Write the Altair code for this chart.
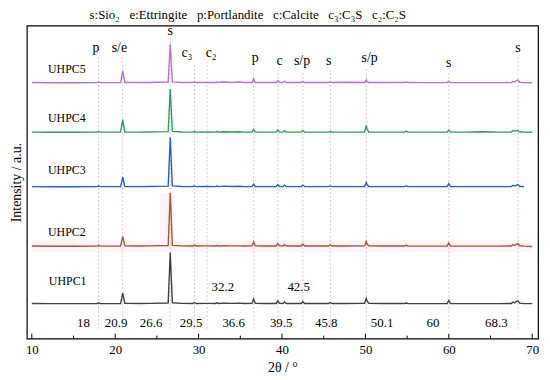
import altair as alt
import pandas as pd

# ---------------- data ----------------
samples = ["UHPC1", "UHPC2", "UHPC3", "UHPC4", "UHPC5"]
offsets = [35, 93, 153, 208, 258]
colors = ["#404040", "#9e5a32", "#2060c8", "#27a05a", "#b46fe0"]

two_theta = [10.0, 12.5, 15.0, 17.8, 18.0, 18.2, 20.65, 20.9, 21.15, 23.0,
             24.0, 26.35, 26.6, 26.85, 28.0, 29.3, 29.5, 29.7, 31.0, 32.0,
             32.2, 32.4, 33.0, 34.0, 34.8, 35.5, 36.4, 36.6, 36.8, 38.0,
             39.3, 39.5, 39.7, 40.1, 40.3, 40.5, 41.5, 42.3, 42.5, 42.7,
             44.0, 45.6, 45.8, 46.0, 47.5, 49.9, 50.1, 50.2, 50.4, 52.0,
             54.7, 54.9, 55.1, 57.0, 59.8, 60.0, 60.2, 62.0, 64.0, 66.0,
             67.5, 67.7, 67.9, 68.1, 68.3, 68.5, 69.0, 70.0]

uhpc1 = [0.5, 0.3, 0.3, 0.4, 1.2, 0.4, 0.5, 11, 0.6, 0.5,
         0.6, 1.0, 52, 1.2, 0.6, 0.5, 1.5, 0.5, 0.6, 0.5,
         1.2, 0.5, 0.8, 0.6, 0.8, 0.5, 0.6, 5.0, 0.6, 0.5,
         0.5, 3.0, 0.6, 0.5, 2.0, 0.5, 0.5, 0.5, 2.5, 0.5,
         0.5, 0.5, 1.5, 0.5, 0.5, 0.6, 5.5, 3.0, 0.6, 0.5,
         0.5, 1.0, 0.5, 0.4, 0.5, 3.5, 0.5, 0.4, 0.4, 0.4,
         0.5, 2.0, 1.0, 2.5, 3.0, 0.8, 0.4, 0.3]
uhpc2 = [0.5, 0.3, 0.3, 0.4, 1.0, 0.4, 0.5, 10, 0.6, 0.5,
         0.6, 1.0, 54, 1.2, 0.6, 0.5, 1.2, 0.5, 0.6, 0.5,
         1.0, 0.5, 0.8, 0.6, 0.6, 0.5, 0.6, 4.5, 0.6, 0.5,
         0.5, 3.0, 0.6, 0.5, 1.8, 0.5, 0.5, 0.5, 2.5, 0.5,
         0.5, 0.5, 1.5, 0.5, 0.5, 0.6, 5.0, 2.5, 0.6, 0.5,
         0.5, 1.2, 0.5, 0.4, 0.5, 3.5, 0.5, 0.4, 0.4, 0.4,
         0.5, 2.0, 1.0, 2.5, 2.8, 0.8, 0.4, 0.0]
uhpc3 = [0.5, 0.3, 0.3, 0.4, 1.0, 0.4, 0.5, 10, 0.6, 0.5,
         0.6, 1.0, 50, 1.2, 0.6, 0.5, 1.2, 0.5, 0.6, 0.5,
         1.0, 0.5, 1.0, 0.6, 0.8, 0.5, 0.6, 3.0, 0.6, 0.5,
         0.5, 2.5, 0.6, 0.5, 2.0, 0.5, 0.5, 0.5, 2.0, 0.5,
         0.5, 0.5, 1.2, 0.5, 0.5, 0.6, 4.5, 2.5, 0.6, 0.5,
         0.5, 1.2, 0.5, 0.4, 0.5, 3.5, 0.5, 0.4, 0.4, 0.4,
         0.5, 1.8, 1.0, 2.0, 2.5, 0.8, 0.3, None]
uhpc4 = [0.5, 0.3, 0.3, 0.4, 1.0, 0.4, 0.5, 13, 0.6, 0.5,
         0.6, 1.0, 44, 1.2, 0.6, 0.5, 1.0, 0.5, 0.6, 0.5,
         1.0, 0.5, 0.8, 0.6, 0.8, 0.5, 0.6, 3.0, 0.6, 0.5,
         0.5, 2.5, 0.6, 0.5, 1.8, 0.5, 0.5, 0.5, 2.0, 0.5,
         0.5, 0.5, 1.0, 0.5, 0.5, 0.6, 7.0, 3.5, 0.6, 0.5,
         0.5, 1.5, 0.5, 0.4, 0.5, 2.5, 0.5, 0.4, 0.8, 0.4,
         0.5, 2.0, 1.5, 2.0, 2.0, 0.8, 0.4, 0.3]
uhpc5 = [0.5, 0.3, 0.3, 0.4, 1.0, 0.4, 0.5, 12, 0.6, 0.5,
         0.6, 1.0, 39, 1.2, 0.6, 0.5, 1.2, 0.5, 0.6, 0.5,
         1.0, 0.5, 1.0, 0.6, 1.0, 0.5, 0.6, 4.0, 0.6, 0.5,
         0.5, 2.5, 0.6, 0.5, 1.8, 0.5, 0.5, 0.5, 1.5, 0.5,
         0.5, 0.5, 1.2, 0.5, 0.8, 0.6, 3.0, 1.5, 0.6, 0.5,
         0.5, 1.0, 0.5, 0.4, 0.5, 2.0, 0.5, 0.4, 0.4, 0.4,
         0.5, 1.8, 1.0, 2.5, 3.0, 0.8, 0.4, 0.3]
intensities = [uhpc1, uhpc2, uhpc3, uhpc4, uhpc5]

# sample label positions
sample_label_x = [14.3, 14.2, 14.2, 14.2, 14.2]
sample_label_y = [58, 108, 170, 223, 272]

# reference lines (2theta) and phase labels
ref_pos = [18.0, 20.9, 26.6, 29.5, 31.0, 36.6, 39.5, 42.5, 45.8, 50.1, 60.0, 68.3]
ref_top = [284, 284, 306, 279, 279, 274, 271, 271, 271, 274, 269, 284]
phase_text = ["p", "s/e", "s", "c₃", "c₂", "p", "c", "s/p", "s", "s/p", "s", "s"]
phase_x = [17.7, 20.5, 26.6, 28.6, 31.5, 36.8, 39.7, 42.4, 45.6, 50.5, 60.0, 68.3]
phase_y = [293, 293, 310, 288, 288, 283, 280, 280, 280, 283, 278, 293]

# numeric annotations
num_text = ["18", "20.9", "26.6", "29.5", "36.6", "39.5", "45.8", "50.1", "60", "68.3", "32.2", "42.5"]
num_x = [16.2, 20.1, 24.3, 29.1, 34.2, 39.9, 45.3, 52.0, 58.1, 65.7, 32.9, 42.0]
num_y = [16, 16, 16, 16, 16, 16, 16, 16, 16, 16, 52, 52]

major_ticks = [10, 20, 30, 40, 50, 60, 70]
minor_ticks = [15, 25, 35, 45, 55, 65]

# faint pink highlight bands
band_x = [10.0, 25.4]
band_x2 = [69.8, 27.0]
band_y = [88, 99]
band_y2 = [99, 147]

legend_text = "\u00a0\u00a0\u00a0".join(
    ["s:Sio₂", "e:Ettringite", "p:Portlandite", "c:Calcite", "c₃:C₃S", "c₂:C₂S"])

# ---------------- tables ----------------
rows = []
for s, off, ys in zip(samples, offsets, intensities):
    for xv, yv in zip(two_theta, ys):
        rows.append({"x": xv, "y": (yv + off) if yv is not None else None, "sample": s})
spec_df = pd.DataFrame(rows)

lab_df = pd.DataFrame({"x": sample_label_x, "y": sample_label_y, "t": samples})
ref_df = pd.DataFrame({"x": ref_pos, "y": [10] * len(ref_pos), "y2": ref_top})
phase_df = pd.DataFrame({"x": phase_x, "y": phase_y, "t": phase_text})
num_df = pd.DataFrame({"x": num_x, "y": num_y, "t": num_text})
tick_df = pd.DataFrame({"x": major_ticks + minor_ticks,
                        "y": [0] * (len(major_ticks) + len(minor_ticks)),
                        "y2": [5] * len(major_ticks) + [3] * len(minor_ticks)})
band_df = pd.DataFrame({"x": band_x, "x2": band_x2, "y": band_y, "y2": band_y2})

FONT = "'Liberation Serif', 'Times New Roman', 'DejaVu Serif', serif"
x_scale = alt.Scale(domain=[9.4, 70.7], nice=False, zero=False)
y_scale = alt.Scale(domain=[0, 316], nice=False, zero=False)
x_axis = alt.Axis(values=major_ticks, title="2θ / °", ticks=False, grid=False,
                  domain=False, labelPadding=5, titlePadding=4, format="d")
y_axis = alt.Axis(labels=False, ticks=False, grid=False, domain=False,
                  title="Intensity / a.u.", titlePadding=3)


def X(f):
    return alt.X(f, type="quantitative", scale=x_scale, axis=x_axis)


def Y(f):
    return alt.Y(f, type="quantitative", scale=y_scale, axis=y_axis)


bands = alt.Chart(band_df).mark_rect(color="#fdeef5", opacity=0.7).encode(
    x=X("x"), x2="x2", y=Y("y"), y2="y2")

refs = alt.Chart(ref_df).mark_rule(color="#e9a9c2", strokeDash=[2, 2], strokeWidth=0.8).encode(
    x=X("x"), y=Y("y"), y2="y2")

lines = alt.Chart(spec_df).mark_line(strokeWidth=1.4).encode(
    x=X("x"), y=Y("y"),
    color=alt.Color("sample:N", scale=alt.Scale(domain=samples, range=colors), legend=None),
    detail="sample:N")

ticks = alt.Chart(tick_df).mark_rule(color="black", strokeWidth=1).encode(
    x=X("x"), y=Y("y"), y2="y2")

sample_labels = alt.Chart(lab_df).mark_text(font=FONT, fontSize=12, color="black").encode(
    x=X("x"), y=Y("y"), text="t:N")

phase_labels = alt.Chart(phase_df).mark_text(font=FONT, fontSize=14, color="black").encode(
    x=X("x"), y=Y("y"), text="t:N")

num_labels = alt.Chart(num_df).mark_text(font=FONT, fontSize=13, color="black").encode(
    x=X("x"), y=Y("y"), text="t:N")

chart = alt.layer(bands, refs, lines, ticks, sample_labels, phase_labels, num_labels).properties(
    width=516, height=316,
    padding={"left": 19, "top": 16, "right": 4, "bottom": 40},
    autosize=alt.AutoSizeParams(type="none"),
    title=alt.Title(legend_text,
                    anchor="middle", dx=-35, offset=3, font=FONT, fontSize=13,
                    fontWeight="normal", color="black"),
).configure_view(stroke="black", strokeWidth=1.2).configure_axis(
    labelFont=FONT, titleFont=FONT, labelFontSize=13, titleFontSize=14,
    labelColor="black", titleColor="black", titleFontWeight="normal")

chart.save("out.html", embed_options={"renderer": "svg", "actions": False})
